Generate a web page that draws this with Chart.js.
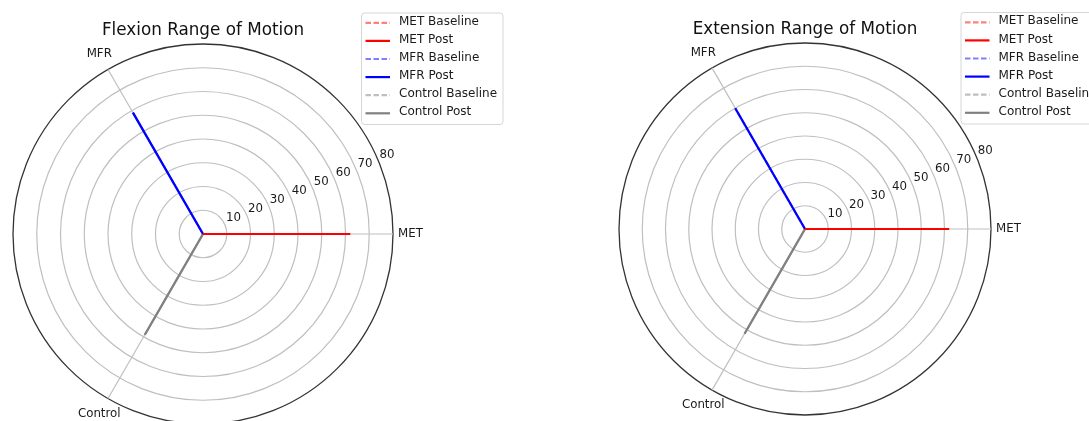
<!DOCTYPE html>
<html>
<head>
<meta charset="utf-8">
<title>Range of Motion</title>
<script src="https://cdn.jsdelivr.net/npm/chart.js@4.4.1/dist/chart.umd.min.js"></script>
<style>
  html, body { margin: 0; padding: 0; width: 1089px; height: 421px; overflow: hidden; background: #ffffff; }
  canvas { position: absolute; top: 0; }
  #flexion { left: 0; }
  #extension { left: 545px; }
</style>
</head>
<body>
<canvas id="flexion" width="545" height="440"></canvas>
<canvas id="extension" width="544" height="440"></canvas>
<script>
// Groups, in the order they are listed in the legend
const categories = ['MET', 'MFR', 'Control'];
// Radial gridline labels (degrees)
const radialTicks = [10, 20, 30, 40, 50, 60, 70, 80];

// Range of motion per group (degrees)
const flexionBaseline = [62, 59, 49];
const flexionPost = [62, 59, 49];
const extensionBaseline = [62, 60, 52];
const extensionPost = [62, 60, 52];

// Groups run counter-clockwise from the right-hand spoke
const radarLabels = [categories[0], categories[2], categories[1]];

const postColors = { MET: '#ff0000', MFR: '#0000ff', Control: '#808080' };
const baselineColors = { MET: 'rgba(255,0,0,0.5)', MFR: 'rgba(0,0,255,0.5)', Control: 'rgba(128,128,128,0.5)' };

const FONT = '"DejaVu Sans", "Liberation Sans", sans-serif';
const DEG = Math.PI / 180;

// Each group is a spoke from the centre out to its value
function buildDatasets(baseline, post) {
  const sets = [];
  categories.forEach((cat, i) => {
    const spoke = vals => radarLabels.map(l => (l === cat ? vals[i] : 0));
    sets.push({
      label: cat + ' Baseline', data: spoke(baseline),
      borderColor: baselineColors[cat], borderDash: [5.5, 2.5], borderWidth: 2.2, order: 1
    });
    sets.push({
      label: cat + ' Post', data: spoke(post),
      borderColor: postColors[cat], borderWidth: 2.2, order: 0
    });
  });
  return sets;
}

// Title, spoke names, ring labels and the legend box
const polarDecor = {
  id: 'polarDecor',
  afterDraw(chart, args, opts) {
    const ctx = chart.ctx;
    const s = chart.scales.r;
    ctx.save();

    ctx.fillStyle = '#111111';
    ctx.textAlign = 'center';
    ctx.textBaseline = 'middle';
    ctx.font = '16.8px ' + FONT;
    ctx.fillText(opts.title, s.xCenter, opts.titleY);

    ctx.font = '11.8px ' + FONT;
    ctx.fillStyle = '#1a1a1a';
    chart.data.labels.forEach((lab, i) => {
      const p = s.getPointPosition(i, s.drawingArea + 17.5);
      ctx.fillText(lab, p.x, p.y);
    });

    ctx.textAlign = 'left';
    const a = 22.5 * DEG;
    radialTicks.forEach(v => {
      const r = s.getDistanceFromCenterForValue(v);
      ctx.fillText(String(v), s.xCenter + r * Math.cos(a) + 1, s.yCenter - r * Math.sin(a) - 6.6);
    });

    const L = opts.legend;
    ctx.beginPath();
    ctx.roundRect(L.x + 0.5, L.y + 0.5, L.w, L.h, 3);
    ctx.fillStyle = 'rgba(255,255,255,0.8)';
    ctx.fill();
    ctx.strokeStyle = '#d6d6d6';
    ctx.lineWidth = 1;
    ctx.stroke();

    ctx.font = '12px ' + FONT;
    chart.data.datasets.forEach((ds, k) => {
      const y = L.y + 9.3 + k * 18.1;
      ctx.setLineDash(ds.borderDash || []);
      ctx.strokeStyle = ds.borderColor;
      ctx.lineWidth = 2.2;
      ctx.beginPath();
      ctx.moveTo(L.x + 4.5, y + 1);
      ctx.lineTo(L.x + 29, y + 1);
      ctx.stroke();
      ctx.setLineDash([]);
      ctx.fillStyle = '#1a1a1a';
      ctx.fillText(ds.label, L.x + 38, y);
    });

    ctx.restore();
  }
};

function makeChart(id, title, baseline, post, pad, titleY, legend) {
  return new Chart(document.getElementById(id), {
    type: 'radar',
    data: { labels: radarLabels, datasets: buildDatasets(baseline, post) },
    options: {
      responsive: false,
      animation: false,
      layout: { padding: pad },
      elements: {
        line: { tension: 0, fill: false, borderJoinStyle: 'bevel' },
        point: { radius: 0, hoverRadius: 0, hitRadius: 0 }
      },
      plugins: {
        legend: { display: false },
        title: { display: false },
        tooltip: { enabled: false },
        polarDecor: { title, titleY, legend }
      },
      scales: {
        r: {
          min: 0,
          max: 80,
          startAngle: 90,
          ticks: { display: false, stepSize: 10 },
          pointLabels: { display: false },
          grid: {
            circular: true,
            color: c => (c.tick && c.tick.value === 80 ? '#333333' : '#bfbfbf'),
            lineWidth: c => (c.tick && c.tick.value === 80 ? 1.3 : 1.2)
          },
          angleLines: { display: true, color: '#bfbfbf', lineWidth: 1.2 }
        }
      }
    },
    plugins: [polarDecor]
  });
}

makeChart('flexion', 'Flexion Range of Motion', flexionBaseline, flexionPost,
  { left: 13, top: 44, right: 152, bottom: 16 }, 30.5,
  { x: 361, y: 12.5, w: 141.5, h: 111.5 });

makeChart('extension', 'Extension Range of Motion', extensionBaseline, extensionPost,
  { left: 74, top: 43, right: 98, bottom: 25 }, 29.5,
  { x: 415.5, y: 12, w: 141.5, h: 111.5 });
</script>
</body>
</html>
